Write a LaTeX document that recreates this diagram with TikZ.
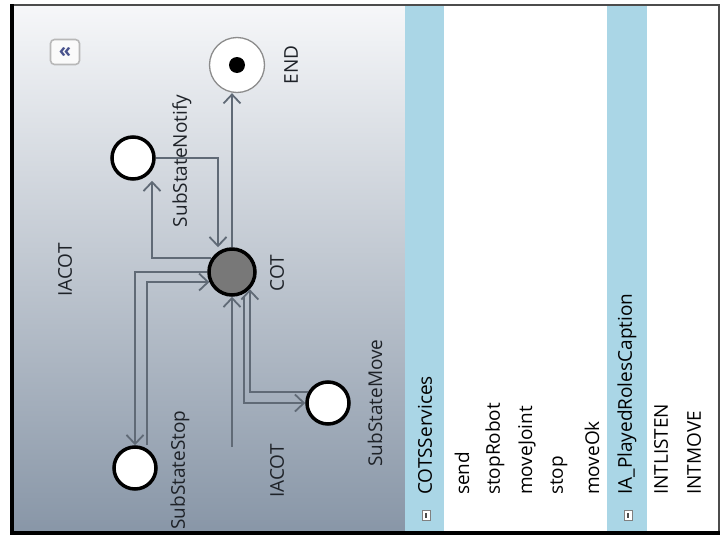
\documentclass[tikz,border=0pt]{standalone}
\usepackage{fontspec}
\setmainfont{Open Sans}
\usetikzlibrary{arrows.meta}

\definecolor{paneltop}{RGB}{246,247,249}
\definecolor{panelbot}{RGB}{136,150,167}
\definecolor{stripe}{RGB}{170,214,230}
\definecolor{wiregray}{RGB}{96,106,118}
\definecolor{cotgray}{RGB}{120,120,120}
\definecolor{labelink}{RGB}{30,34,40}
\definecolor{chevron}{RGB}{72,82,140}

\tikzset{
  state/.style={circle, draw=black, line width=3.5pt, fill=white, minimum size=42pt, inner sep=0pt},
  lbl/.style={rotate=90, text=labelink, inner sep=0pt, font=\fontsize{19}{22}\selectfont},
  item/.style={lbl, anchor=west, text=black},
  trans/.style={draw=wiregray, line width=1.8pt, ->},
  foldbox/.style={draw=black!50, fill=white, line width=0.8pt, minimum width=8pt, minimum height=10pt, inner sep=0pt},
}

\begin{document}
\begin{tikzpicture}[x=1pt, y=-1pt, >={Straight Barb[length=9pt,width=17pt]}]
  \useasboundingbox (0,0) rectangle (721,538);

  % diagram area and the two list headers
  \shade[top color=paneltop, bottom color=panelbot] (12,5) rectangle (405,533);
  \fill[white] (405,5) rectangle (719,533);
  \fill[stripe] (405,5) rectangle (444,533);
  \fill[stripe] (607,5) rectangle (647,533);

  % frame
  \draw[line width=1.8pt, black!70] (12,5) -- (719,5) -- (719,533);
  \draw[line width=4pt] (12,4) -- (12,534);
  \draw[line width=3.5pt] (10,533) -- (720,533);

  % collapse button
  \node[draw=black!28, line width=1.6pt, rounded corners=4pt, fill=white!96!gray, minimum width=29pt, minimum height=25pt,
        inner sep=0pt, text=chevron] (collapse) at (65,52) {\fontsize{20}{20}\selectfont\bfseries «};

  % states
  \node[state] (notify) at (133,158) {};
  \node[state] (stop) at (135,468) {};
  \node[state] (move) at (328,403) {};
  \node[state, fill=cotgray, minimum size=46pt] (cot) at (232,272) {};
  \node[circle, draw=black!45, line width=1.3pt, fill=white, minimum size=55pt, inner sep=0pt] (endst) at (237,65) {};
  \node[circle, fill=black, minimum size=16pt, inner sep=0pt] (enddot) at (endst) {};
  \coordinate (init) at (232,447);

  % state labels
  \node[lbl] (iacottop) at (65,270) {IACOT};
  \node[lbl] (notifylbl) at (182,161) {SubStateNotify};
  \node[lbl] (endlbl) at (291,65) {END};
  \node[lbl] (cotlbl) at (277,273) {COT};
  \node[lbl] (stoplbl) at (180,470) {SubStateStop};
  \node[lbl] (iacotbot) at (277,471) {IACOT};
  \node[lbl] (movelbl) at (375,403) {SubStateMove};

  % transitions
  \draw[trans] (init) -- (cot);
  \draw[trans] (cot.north) -- (cot.north |- endst.south);
  \draw[trans] (notify.east) -| ([xshift=-14pt]cot.north);
  \draw[trans] (cot.146) -| ([xshift=19pt]notify.south);
  \draw[trans] (cot.west) -| (stop.north);
  \draw[trans] ([xshift=12pt]stop.north) |- (cot.204);
  \draw[trans] ([xshift=12pt]cot.south) |- (move.west);
  \draw[trans] (move.151) -| (cot.-44);

  % services list
  \node[foldbox] (cotsfold) at (426,515) {};
  \draw[line width=1.4pt, black!70] ([yshift=-2.5pt]cotsfold.center) -- ([yshift=2.5pt]cotsfold.center);
  \node[item] (cots) at (425,495) {COTSServices};
  \node[item] (send) at (462,495) {send};
  \node[item] (stoprobot) at (495,495) {stopRobot};
  \node[item] (movejoint) at (527,495) {moveJoint};
  \node[item] (stopitem) at (559,495) {stop};
  \node[item] (moveok) at (592,495) {moveOk};

  % played roles list
  \node[foldbox] (rolesfold) at (628,515) {};
  \draw[line width=1.4pt, black!70] ([yshift=-2.5pt]rolesfold.center) -- ([yshift=2.5pt]rolesfold.center);
  \node[item] (roles) at (627,495) {IA\_PlayedRolesCaption};
  \node[item] (intlisten) at (661,495) {INTLISTEN};
  \node[item] (intmove) at (694,495) {INTMOVE};
\end{tikzpicture}
\end{document}
